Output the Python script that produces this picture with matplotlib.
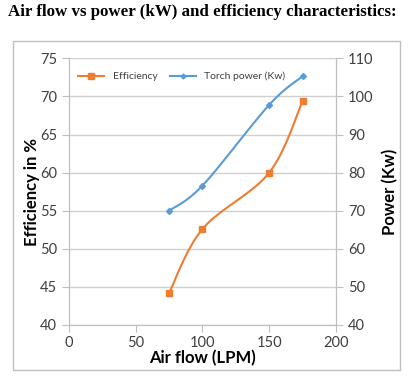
import numpy as np
import matplotlib
matplotlib.use("Agg")
import matplotlib.pyplot as plt
from matplotlib.patches import Rectangle

# data
air_flow = [75, 100, 150, 175]
efficiency = [44.2, 52.6, 60.0, 69.4]
torch_power = [70.0, 76.6, 97.8, 105.3]

orange = '#ED7D31'
blue = '#5B9BD5'
grid_col = '#d0d0d0'
txt = '#404040'


def smooth(xs, ys, n=30):
    # excel style smoothed line (catmull-rom through the points)
    p = np.column_stack([xs, ys]).astype(float)
    p = np.vstack([p[0], p, p[-1]])
    out = []
    for i in range(1, len(p) - 2):
        p0, p1, p2, p3 = p[i - 1], p[i], p[i + 1], p[i + 2]
        t = np.linspace(0, 1, n)[:, None]
        seg = 0.5 * ((2 * p1) + (-p0 + p2) * t + (2 * p0 - 5 * p1 + 4 * p2 - p3) * t ** 2
                     + (-p0 + 3 * p1 - 3 * p2 + p3) * t ** 3)
        out.append(seg)
    out = np.vstack(out)
    return out[:, 0], out[:, 1]


plt.rcParams['font.family'] = 'Lato'

fig = plt.figure(figsize=(4.14, 3.84), dpi=100)
fig.text(8 / 414, 1 - 4 / 384, 'Air flow vs power (kW) and efficiency characteristics:',
         family='Liberation Serif', fontweight='bold', fontsize=12.2, va='top', ha='left')

fig.patches.append(Rectangle((13.5 / 414, 1 - 370 / 384), (400 - 13.5) / 414, (370 - 41) / 384,
                             transform=fig.transFigure, fill=False, edgecolor='#bfbfbf', lw=1))

ax = fig.add_axes([69 / 414, 1 - 325 / 384, (336 - 69) / 414, (325 - 58.3) / 384])
ax2 = ax.twinx()

sx, sy = smooth(air_flow, efficiency)
ax.plot(sx, sy, color=orange, lw=1.5)
ax.plot(air_flow, efficiency, 's', color=orange, ms=5)
ax.plot([], [], '-s', color=orange, ms=4, lw=1.5, label='Efficiency')

sx2, sy2 = smooth(air_flow, torch_power)
ax2.plot(sx2, sy2, color=blue, lw=1.5)
ax2.plot(air_flow, torch_power, 'D', color=blue, ms=3)
ax.plot([], [], '-D', color=blue, ms=2.5, lw=1.5, label='Torch power (Kw)')

ax.set_xlim(0, 200)
ax.set_ylim(40, 75)
ax2.set_ylim(40, 110)
ax.set_xticks(np.arange(0, 201, 50))
ax.set_yticks(np.arange(40, 76, 5))
ax2.set_yticks(np.arange(40, 111, 10))
ax.yaxis.grid(True, color=grid_col, lw=1)
ax.set_axisbelow(True)

for a in (ax, ax2):
    for s in a.spines.values():
        s.set_color('#bfbfbf')
    a.spines['top'].set_visible(False)
    a.tick_params(colors='#bfbfbf', labelcolor=txt, labelsize=10.5, length=5)
ax.tick_params(axis='x', pad=3)

ax.set_xlabel('Air flow (LPM)', fontsize=12, fontweight='bold', labelpad=0)
ax.set_ylabel('Efficiency in %', fontsize=12, fontweight='bold', labelpad=0)
ax2.set_ylabel('Power (Kw)', fontsize=12, fontweight='bold', labelpad=6)

ax.legend(loc='upper left', frameon=False, fontsize=7.5, ncol=2, handlelength=2.5,
          columnspacing=1.2, bbox_to_anchor=(0.0, 0.985), labelcolor=txt)

fig.savefig('out.png', dpi=100)
